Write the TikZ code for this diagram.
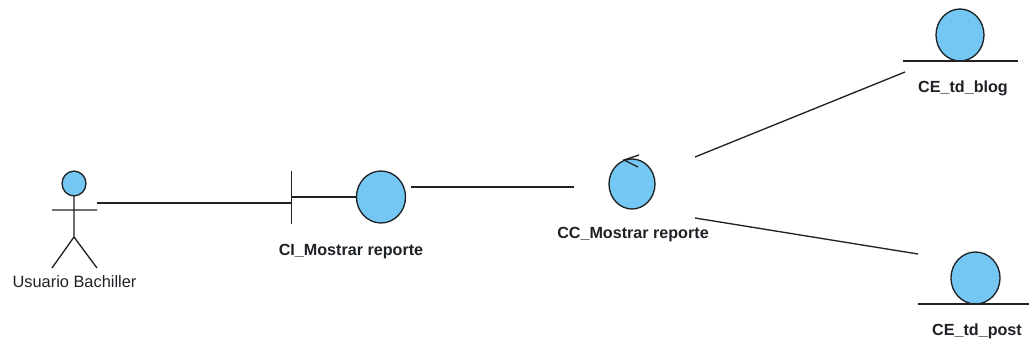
\documentclass[tikz,border=0pt]{standalone}
\usepackage{fontspec}
\setmainfont{Liberation Sans}
\usetikzlibrary{shapes.geometric}
\definecolor{ballfill}{HTML}{74C7F2}
\definecolor{inkline}{HTML}{1E2226}
\tikzset{
  ball/.style={draw=inkline,line width=1pt,fill=ballfill,ellipse,inner sep=0pt,outer sep=0pt},
  wire/.style={draw=inkline,line width=1pt},
  boldlabel/.style={font=\bfseries\fontsize{12.1}{14}\selectfont,text=inkline,inner sep=0pt,anchor=center},
  actorlabel/.style={font=\fontsize{12.3}{14}\selectfont,text=inkline,inner sep=0pt,anchor=center}
}
\begin{document}
\begin{tikzpicture}[x=0.75pt,y=-0.75pt]
\useasboundingbox (0,0) rectangle (1029,343);
% actor
\node[ball,minimum width=18pt,minimum height=18.6pt] (head) at (74,183.5) {};
\coordinate (hip) at (74,237);
\coordinate (armL) at (52,210);
\coordinate (armR) at (97,210);
\coordinate (footL) at (52,268);
\coordinate (footR) at (97,268);
\draw[wire] (head.south) -- (hip) (armL) -- (armR) (footL) -- (hip) -- (footR);
\node[actorlabel] (actorName) at (74.5,281.5) {Usuario Bachiller};
% boundary
\node[ball,minimum width=36.8pt,minimum height=39pt] (ci) at (381,197) {};
\coordinate (barTop) at (291.5,171);
\coordinate (barBot) at (291.5,224);
\coordinate (barMid) at (291.5,197);
\draw[wire] (barTop) -- (barBot);
\draw[wire] (barMid) -- (ci.west);
\node[boldlabel] (ciName) at (351,251.5) {CI\_Mostrar reporte};
% control
\node[ball,minimum width=34.5pt,minimum height=37.5pt] (cc) at (632,184) {};
\coordinate (tip) at (624,160);
\coordinate (barbA) at (639,155);
\coordinate (barbB) at (638,167);
\draw[wire] (barbA) -- (tip) -- (barbB);
\node[boldlabel] (ccName) at (633,234.5) {CC\_Mostrar reporte};
% entity blog
\node[ball,minimum width=36pt,minimum height=39pt] (blog) at (960,35) {};
\coordinate (blogL) at (903,61);
\coordinate (blogR) at (1018,61);
\draw[wire] (blogL) -- (blogR);
\node[boldlabel] (blogName) at (963,88.5) {CE\_td\_blog};
% entity post
\node[ball,minimum width=36.8pt,minimum height=39pt] (post) at (975.5,278) {};
\coordinate (postL) at (918,304);
\coordinate (postR) at (1029,304);
\draw[wire] (postL) -- (postR);
\node[boldlabel] (postName) at (977,331.5) {CE\_td\_post};
% connectors
\coordinate (a1) at (97,203);
\coordinate (a2) at (291.5,203);
\coordinate (b1) at (411,187);
\coordinate (b2) at (574,187);
\coordinate (c1) at (695,157);
\coordinate (c2) at (905,72);
\coordinate (d1) at (695,218);
\coordinate (d2) at (918,254);
\draw[wire] (a1) -- (a2);
\draw[wire] (b1) -- (b2);
\draw[wire] (c1) -- (c2);
\draw[wire] (d1) -- (d2);
\end{tikzpicture}
\end{document}
